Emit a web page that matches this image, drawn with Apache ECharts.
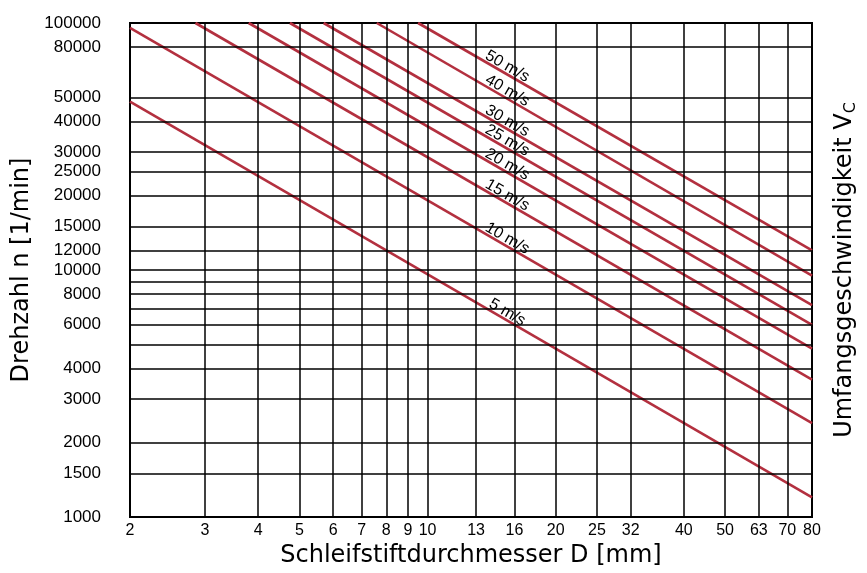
<!DOCTYPE html>
<html>
<head>
<meta charset="utf-8">
<script src="https://cdn.jsdelivr.net/npm/echarts@6/dist/echarts.min.js"></script>
<style>
  html, body { margin: 0; padding: 0; background: #fff; }
  #chart { width: 867px; height: 573px; }
</style>
</head>
<body>
<div id="chart"></div>
<script>
// x axis: Schleifstiftdurchmesser D [mm]
var xTicks = [2, 3, 4, 5, 6, 7, 8, 9, 10, 13, 16, 20, 25, 30, 40, 50, 60, 70, 80];
var xTickText = ['2', '3', '4', '5', '6', '7', '8', '9', '10', '13', '16', '20', '25', '32', '40', '50', '63', '70', '80'];
var xGrid = [3, 4, 5, 6, 7, 8, 9, 10, 13, 16, 20, 25, 30, 40, 50, 60, 70];

// y axis: Drehzahl n [1/min]
var yTicks = [1000, 1500, 2000, 3000, 4000, 6000, 8000, 10000, 12000, 15000, 20000, 25000, 30000, 40000, 50000, 80000, 100000];
var yGrid = [1500, 2000, 3000, 4000, 5000, 6000, 7000, 8000, 9000, 10000, 12000, 15000, 20000, 25000, 30000, 40000, 50000, 80000];

// speed lines (start point, end point at D = 80)
var speeds = ['5 m/s', '10 m/s', '15 m/s', '20 m/s', '25 m/s', '30 m/s', '40 m/s', '50 m/s'];
var startD = [2, 2, 2.85, 3.8, 4.75, 5.7, 7.6, 9.5];
var startN = [48000, 95500, 100000, 100000, 100000, 100000, 100000, 100000];
var endD = [80, 80, 80, 80, 80, 80, 80, 80];
var endN = [1200, 2400, 3600, 4800, 6000, 7200, 9500, 12000];
var labelD = 15.1;

var RED = '#b3303f';
var FONT = '"Liberation Sans", Arial, sans-serif';
var TITLE_FONT = '"DejaVu Sans", sans-serif';

function onLine(i, d) {
  // position of the label anchor on the straight (log-log) line
  var t = (Math.log(d) - Math.log(startD[i])) / (Math.log(endD[i]) - Math.log(startD[i]));
  return Math.exp(Math.log(startN[i]) + t * (Math.log(endN[i]) - Math.log(startN[i])));
}

var chart = echarts.init(document.getElementById('chart'));

var series = [];
series.push({
  type: 'line',
  data: [],
  z: 1,
  silent: true,
  markLine: {
    silent: true,
    symbol: 'none',
    animation: false,
    label: { show: false },
    lineStyle: { color: '#000', width: 1.5, type: 'solid' },
    emphasis: { disabled: true },
    data: xGrid.map(function (v) { return { xAxis: v }; })
      .concat(yGrid.map(function (v) { return { yAxis: v }; }))
  }
});

speeds.forEach(function (name, i) {
  series.push({
    name: name,
    type: 'line',
    z: 3,
    symbol: 'none',
    lineStyle: { color: RED, width: 2.6 },
    data: [[startD[i], startN[i]], [endD[i], endN[i]]],
    markPoint: {
      symbol: 'circle',
      symbolSize: 0,
      animation: false,
      label: {
        show: true,
        position: 'inside',
        rotate: -30,
        offset: [0, -7],
        color: '#000',
        fontSize: 16,
        fontFamily: FONT,
        formatter: name
      },
      data: [{ coord: [labelD, onLine(i, labelD)] }]
    }
  });
});

var option = {
  animation: false,
  backgroundColor: '#fff',
  grid: {
    left: 130, right: 54, top: 23, bottom: 54,
    show: true, borderColor: '#000', borderWidth: 2
  },
  xAxis: {
    type: 'log',
    min: 2,
    max: 80,
    name: 'Schleifstiftdurchmesser D [mm]',
    nameLocation: 'middle',
    nameGap: 27,
    nameTextStyle: { fontSize: 24, color: '#000', fontFamily: TITLE_FONT },
    axisLine: { show: true, lineStyle: { color: '#000', width: 2 } },
    axisTick: { show: false },
    splitLine: { show: false },
    axisLabel: {
      customValues: xTicks,
      margin: 6,
      fontSize: 16,
      color: '#000',
      fontFamily: FONT,
      formatter: function (v) {
        var k = xTicks.indexOf(Math.round(v));
        return k >= 0 ? xTickText[k] : '';
      }
    }
  },
  yAxis: [{
    type: 'log',
    min: 1000,
    max: 100000,
    name: 'Drehzahl n [1/min]',
    nameLocation: 'middle',
    nameGap: 92,
    nameTextStyle: { fontSize: 24, color: '#000', fontFamily: TITLE_FONT },
    axisLine: { show: true, lineStyle: { color: '#000', width: 2 } },
    axisTick: { show: false },
    splitLine: { show: false },
    axisLabel: {
      customValues: yTicks,
      margin: 29,
      fontSize: 17,
      color: '#000',
      fontFamily: FONT,
      formatter: function (v) { return String(Math.round(v)); }
    }
  }, {
    type: 'log',
    min: 1000,
    max: 100000,
    position: 'right',
    name: '{a|Umfangsgeschwindigkeit V}{b|C}',
    nameLocation: 'middle',
    nameGap: 19,
    nameRotate: 90,
    nameTextStyle: {
      color: '#000',
      rich: {
        a: { fontSize: 24, fontFamily: TITLE_FONT, color: '#000' },
        b: { fontSize: 16, fontFamily: TITLE_FONT, color: '#000', padding: [12, 0, 0, 0] }
      }
    },
    axisLine: { show: false },
    axisTick: { show: false },
    axisLabel: { show: false },
    splitLine: { show: false }
  }],
  series: series
};

chart.setOption(option);
</script>
</body>
</html>
